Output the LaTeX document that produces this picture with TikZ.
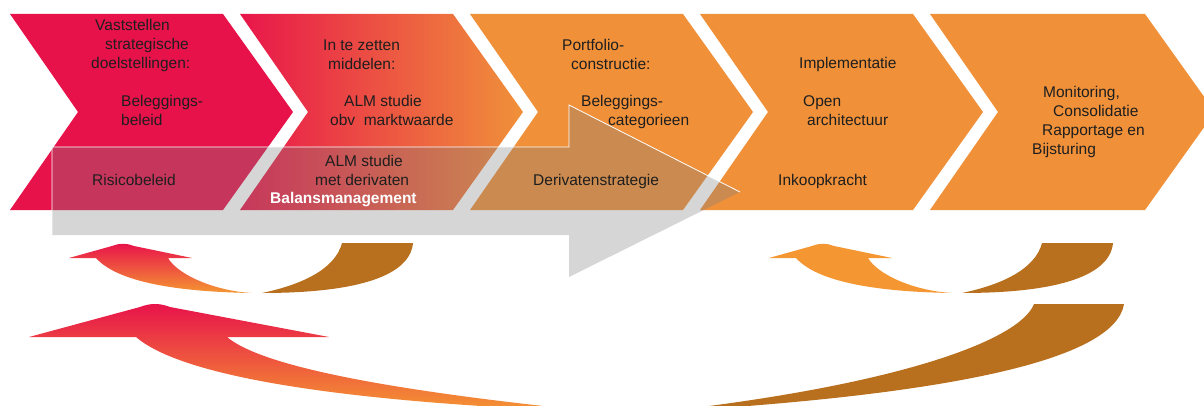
\documentclass[tikz,border=0pt]{standalone}
\usepackage{fontspec}
\setmainfont{Liberation Sans}
\usepackage{xcolor}
\usepackage{tikz}

\definecolor{crimson}{RGB}{232,18,75}
\definecolor{chevorange}{RGB}{240,145,58}
\definecolor{turnorange}{RGB}{244,150,50}
\definecolor{turnbrown}{RGB}{184,112,30}
\definecolor{textgrey}{RGB}{30,30,30}

\begin{document}
\begin{tikzpicture}
    [x=1pt,y=-1pt,
    font=\fontsize{15.5}{19}\selectfont,
    chevron/.style={fill=chevorange},
    band/.style={fill=black!50,fill opacity=0.32},
    bandedge/.style={draw=white,line width=0.8pt},
    backturn/.style={fill=turnbrown},
    txt/.style={anchor=north west,inner sep=0pt,align=left,text=textgrey}]

    \clip (0,0) rectangle (1204,406);

    % process chevrons
    \fill [fill=crimson] (10,14) -- (223,14) -- (293,112) -- (223,210) -- (10,210) -- (78,112) -- cycle;
    \shade [left color=crimson!97!chevorange, right color=chevorange] (240,14) -- (453,14) -- (523,112) -- (453,210) -- (240,210) -- (308,112) -- cycle;
    \foreach \l in {470,700}
        \fill [chevron] (\l,14) -- (\l+213,14) -- (\l+283,112) -- (\l+213,210) -- (\l,210) -- (\l+68,112) -- cycle;
    \fill [chevron] (930,14) -- (1145,14) -- (1215,112) -- (1145,210) -- (930,210) -- (998,112) -- cycle;

    % balansmanagement arrow
    \fill [band] (52,147) -- (569,147) -- (569,105) -- (740,192) -- (569,277) -- (569,235) -- (52,235) -- cycle;
    \draw [bandedge] (52,235) -- (52,147) -- (569,147) -- (569,105) -- (740,192);

    % small feedback loops
    \foreach \dx/\hi in {0/crimson,700/turnorange} {
        \begin{scope}[xshift=\dx pt]
            \fill [backturn] (342,243) -- (413,243) .. controls (410,275) and (360,293) .. (262,293) .. controls (300,285) and (335,270) .. (342,243) -- cycle;
            \shade [top color=\hi, bottom color=turnorange] (69,258) -- (112,246) .. controls (119,243) and (127,243) .. (134,246) -- (192,258) -- (168,258) .. controls (178,275) and (215,291) .. (252,293) .. controls (190,292) and (120,285) .. (96,258) -- cycle;
        \end{scope}
    }

    % big feedback loop
    \fill [backturn] (1034,304) -- (1124,304) .. controls (1115,360) and (950,395) .. (660,412) .. controls (900,385) and (1020,340) .. (1034,304) -- cycle;
    \shade [top color=crimson, bottom color=turnorange] (29,337) -- (140,307) .. controls (150,303) and (160,303) .. (170,307) -- (329,337) -- (227,337) .. controls (260,365) and (380,390) .. (600,412) .. controls (330,402) and (180,375) .. (136,337) -- cycle;

    % texts
    \node (goal) [txt] at (91,19.3) {\hspace*{4pt}Vaststellen\\\hspace*{14pt}strategische\\doelstellingen:};
    \node (policy) [txt] at (121,95.3) {Beleggings-\\beleid};
    \node (means) [txt] at (323,39.3) {In te zetten\\\hspace*{5pt}middelen:};
    \node (almvalue) [txt] at (330,95.3) {\hspace*{14pt}ALM studie\\obv\ \ marktwaarde};
    \node (portfolio) [txt] at (562,39.3) {Portfolio-\\\hspace*{9pt}constructie:};
    \node (categories) [txt] at (581,95.3) {Beleggings-\\\hspace*{27pt}categorieen};
    \node (implement) [txt] at (799,57.3) {Implementatie};
    \node (openarch) [txt] at (803,95.3) {Open\\\hspace*{4pt}architectuur};
    \node (purchase) [txt] at (778,174.3) {Inkoopkracht};
    \node (monitor) [txt] at (1032,86.3) {\hspace*{11pt}Monitoring,\\\hspace*{21pt}Consolidatie\\\hspace*{10pt}Rapportage en\\Bijsturing};
    \node (risk) [txt] at (92,174.3) {Risicobeleid};
    \node (almderiv) [txt] at (315,155.3) {\hspace*{10pt}ALM studie\\met derivaten};
    \node (balance) [txt,text=white,font=\fontsize{15.5}{19}\selectfont\bfseries] at (270,192.3) {Balansmanagement};
    \node (derivstrat) [txt] at (533,174.3) {Derivatenstrategie};
\end{tikzpicture}
\end{document}
